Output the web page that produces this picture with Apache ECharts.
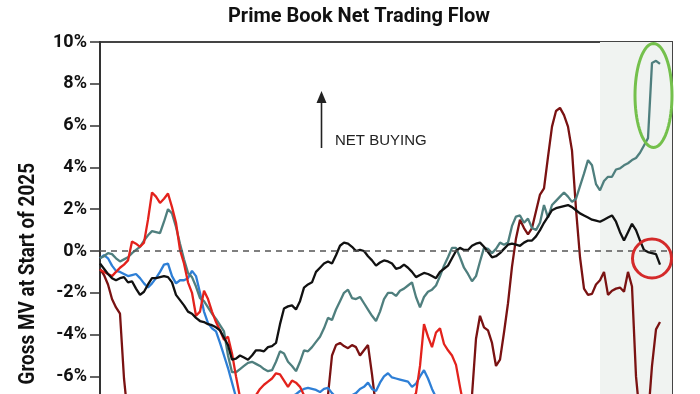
<!DOCTYPE html>
<html>
<head>
<meta charset="utf-8">
<script src="https://cdn.jsdelivr.net/npm/echarts@6/dist/echarts.min.js"></script>
<style>
html,body{margin:0;padding:0;background:#fff;overflow:hidden;}
#chart{width:700px;height:500px;}
</style>
</head>
<body>
<div id="chart"></div>
<script>
// Observation points (144 slots across the plot width; labels fall below the visible area)
const categories = [];
for (let i = 1; i <= 144; i++) categories.push('P' + i);

const yTicks = [-10, -8, -6, -4, -2, 0, 2, 4, 6, 8, 10];

const blackSeries = [
 -0.6,-0.85,-1.1,-1.3,-1.4,-1.3,-1.25,-1.5,-1.45,-1.8,
 -2.1,-1.95,-1.6,-1.3,-1.3,-1.25,-1.2,-1.25,-1.5,-2.1,
 -2.35,-2.6,-2.9,-3.0,-3.2,-3.35,-3.4,-3.5,-3.55,-3.65,
 -3.8,-4.15,-4.5,-5.2,-5.15,-5.0,-5.1,-5.2,-5.0,-4.75,
 -4.75,-4.8,-4.6,-4.55,-4.4,-3.5,-2.75,-2.65,-2.6,-2.8,
 -2.4,-1.75,-1.6,-1.5,-1.0,-0.8,-0.6,-0.5,-0.6,-0.2,
 0.25,0.4,0.35,0.2,0.0,0.05,0.0,-0.25,-0.45,-0.7,
 -0.55,-0.45,-0.5,-0.6,-0.85,-0.8,-0.65,-0.8,-1.0,-1.25,
 -1.15,-1.05,-1.1,-1.2,-1.3,-1.0,-0.85,-0.7,-0.35,0.0,
 0.15,0.05,0.05,0.25,0.35,0.4,0.2,-0.05,-0.3,-0.25,
 -0.1,0.1,0.3,0.35,0.3,0.25,0.4,0.5,0.5,0.7,
 1.0,1.35,1.65,1.95,2.05,2.1,2.15,2.2,2.1,1.95,
 1.8,1.7,1.6,1.5,1.45,1.4,1.5,1.6,1.7,1.4,
 0.9,0.5,0.9,1.3,1.0,0.5,0.05,-0.05,-0.1,-0.15,
 -0.65
];

const tealSeries = [
 -0.35,-0.25,-0.1,-0.15,-0.35,-0.5,-0.4,-0.3,-0.1,0.05,
 0.2,0.5,0.75,0.95,0.9,0.85,1.4,2.0,1.8,1.15,
 0.35,-0.4,-1.05,-1.25,-1.7,-2.25,-2.4,-2.7,-3.0,-3.25,
 -3.55,-3.85,-5.0,-5.8,-5.8,-5.65,-5.5,-5.35,-5.3,-5.4,
 -5.5,-5.65,-5.75,-5.7,-5.3,-4.8,-4.9,-5.3,-5.5,-5.75,
 -5.3,-4.75,-4.8,-4.6,-4.35,-4.1,-3.7,-3.2,-3.3,-2.8,
 -2.4,-2.0,-1.85,-2.25,-2.3,-2.2,-2.5,-2.8,-3.1,-3.35,
 -2.9,-2.3,-2.0,-2.0,-2.15,-1.9,-1.8,-1.65,-1.5,-2.2,
 -2.7,-2.2,-1.95,-1.85,-1.65,-1.2,-0.7,-0.3,0.15,0.15,
 -0.3,-0.8,-1.1,-1.45,-1.2,-0.5,0.15,0.1,-0.1,0.1,
 0.4,0.3,0.4,1.2,1.65,1.7,1.35,1.55,1.1,1.0,
 1.35,2.2,1.6,2.2,2.4,2.6,2.8,2.6,2.35,2.5,
 3.1,3.7,4.35,4.1,3.2,2.9,3.35,3.55,3.55,3.9,
 3.95,4.1,4.2,4.35,4.45,4.7,5.05,5.4,9.0,9.1,
 8.95
];

const redSeries = [
 -0.9,-1.0,-1.1,-1.2,-1.0,-0.8,-0.65,-0.45,0.45,0.35,
 0.2,0.4,1.5,2.8,2.6,2.3,2.5,2.75,2.1,1.35,
 0.05,-0.6,-1.5,-2.0,-3.1,-2.9,-1.9,-2.3,-2.9,-3.4,
 -3.8,-4.25,-4.1,-4.9,-6.0,-7.0,-7.3,-7.4,-7.2,-6.9,
 -6.6,-6.4,-6.25,-6.1,-5.85,-5.9,-6.2,-6.5,-6.2,-6.3,
 -6.5,-6.9,-7.3,-7.6,-7.8,-7.9,-8.0,-7.9,-7.8,-7.7,
 -7.8,-7.9,-8.0,-8.1,-8.0,-7.9,-7.8,-7.9,-8.0,-7.9,
 -7.8,-7.7,-7.6,-7.7,-7.8,-7.6,-7.4,-7.3,-7.1,-6.8,
 -5.5,-3.5,-4.1,-4.6,-3.9,-3.7,-4.45,-4.75,-5.0,-5.45,
 -6.5,-7.5,-8.0
];

const blueSeries = [
 -0.35,-0.2,-0.35,-0.7,-0.95,-1.0,-1.1,-1.2,-1.15,-1.1,
 -1.3,-1.55,-1.75,-1.55,-1.3,-1.0,-0.65,-0.6,-1.2,-1.55,
 -1.4,-1.4,-1.3,-0.95,-1.2,-2.0,-2.9,-3.45,-3.7,-3.85,
 -4.4,-5.0,-5.6,-6.3,-7.0,-7.4,-7.6,-7.7,-7.8,-7.7,
 -7.6,-7.5,-7.4,-7.3,-7.2,-7.2,-7.1,-7.0,-6.95,-6.85,
 -6.7,-6.6,-6.55,-6.6,-6.65,-6.75,-6.6,-6.55,-6.8,-7.0,
 -7.1,-7.1,-7.0,-6.9,-6.8,-6.6,-6.5,-6.3,-6.6,-6.7,
 -6.3,-6.0,-5.85,-6.05,-6.1,-6.15,-6.2,-6.25,-6.5,-6.35,
 -6.0,-5.7,-6.1,-6.6,-7.0,-7.5
];

const maroonSeries = [
 -0.85,-1.15,-1.6,-2.3,-2.7,-3.0,-6.1,
 -8.0,-8.6,-9.0,-9.2,-9.3,-9.1,-9.0,-9.2,-9.4,-9.5,
 -9.4,-9.3,-9.2,-9.4,-9.5,-9.6,-9.5,-9.4,-9.3,-9.2,
 -9.0,-9.1,-9.3,-9.4,-9.2,-9.0,-8.8,-8.9,-9.0,-8.8,
 -8.6,-8.5,-8.7,-8.8,-8.6,-8.4,-8.3,-8.5,-8.6,-8.4,
 -8.2,-8.0,-8.1,-8.2,-8.0,-7.9,-7.8,-7.9,-7.7,-7.5,
 -6.9,-5.0,-4.5,-4.4,-4.55,-4.65,-4.5,-4.6,-5.0,-4.75,-4.5,-5.9,
 -7.5,-7.8,-7.6,-7.9,-8.1,-8.2,-8.0,-8.3,-8.4,-8.2,-8.0,-8.1,
 -8.3,-8.2,-8.0,-7.9,-8.1,-8.2,-8.0,-7.8,-7.7,-7.8,-7.6,-7.4,
 -6.9,-4.2,-3.1,-3.65,-3.8,-4.4,-5.5,-5.2,-3.9,-2.5,
 -0.75,0.6,1.5,1.1,0.8,1.1,1.9,2.7,3.0,4.5,
 5.95,6.7,6.85,6.5,5.95,4.8,2.0,-0.3,-1.8,-2.1,
 -2.05,-1.6,-1.4,-1.0,-2.1,-1.9,-1.8,-1.75,-1.95,-1.0,
 -1.7,-6.0,-8.0,-9.0,-8.0,-5.5,-3.75,-3.4
];

const shadeStart = categories[125];
const shadeEnd = categories[143];

const chart = echarts.init(document.getElementById('chart'), null, {renderer: 'canvas'});

function lineSeries(name, data, color, extra) {
  return Object.assign({
    name: name,
    type: 'line',
    data: data,
    symbol: 'none',
    showSymbol: false,
    smooth: false,
    lineStyle: {color: color, width: 2.3},
    itemStyle: {color: color},
    emphasis: {disabled: true},
    animation: false
  }, extra || {});
}

// ellipse outline for the highlight annotation (shape only, not data)
const ellipsePts = [];
for (let k = 0; k < 72; k++) {
  const t = k / 72 * Math.PI * 2;
  ellipsePts.push([653.5 + 18.5 * Math.cos(t), 95.5 + 52 * Math.sin(t)]);
}

const option = {
  animation: false,
  backgroundColor: '#ffffff',
  title: {
    text: 'Prime Book Net Trading Flow',
    left: 354,
    textAlign: 'center',
    top: 2,
    textStyle: {fontFamily: 'Roboto', fontWeight: 'bold', fontSize: 20, color: '#111'}
  },
  grid: {
    left: 100, right: 28, top: 42, bottom: 40,
    show: true, borderColor: '#444', borderWidth: 2, backgroundColor: 'transparent'
  },
  xAxis: {
    type: 'category',
    data: categories,
    boundaryGap: false,
    axisLine: {show: false},
    axisTick: {show: false},
    axisLabel: {show: false},
    splitLine: {show: false}
  },
  yAxis: {
    type: 'value',
    min: yTicks[0],
    max: yTicks[yTicks.length - 1],
    interval: 2,
    axisLine: {show: true, lineStyle: {color: '#333', width: 2}},
    axisTick: {show: true, length: 10, lineStyle: {color: '#333', width: 1.5}},
    axisLabel: {
      margin: 13,
      formatter: function (v) { return v + '%'; },
      fontFamily: 'Roboto', fontWeight: 'bold', fontSize: 18, color: '#111'
    },
    splitLine: {show: false}
  },
  series: [
    lineSeries('Maroon', maroonSeries, '#7a1212', {
      markArea: {
        silent: true,
        itemStyle: {color: '#f0f3f1'},
        data: [[{xAxis: shadeStart}, {xAxis: shadeEnd}]]
      }
    }),
    lineSeries('Blue', blueSeries, '#2e7fd6'),
    lineSeries('Teal', tealSeries, '#4f7f7e'),
    lineSeries('Red', redSeries, '#e3221c'),
    lineSeries('Black', blackSeries, '#111111', {
      markLine: {
        silent: true,
        symbol: ['none', 'none'],
        label: {show: false},
        lineStyle: {color: '#555', width: 1.6, type: [6, 5]},
        data: [{yAxis: 0}]
      }
    })
  ],
  graphic: [
    {
      type: 'text',
      z: 100,
      x: 28, y: 163,
      rotation: Math.PI / 2,
      scaleX: 0.86,
      style: {
        text: 'Gross MV at Start of 2025',
        fontFamily: 'Roboto', fontWeight: 'bold', fontSize: 22, fill: '#111',
        align: 'right', verticalAlign: 'middle'
      }
    },
    {
      type: 'line',
      z: 100,
      shape: {x1: 321.5, y1: 100, x2: 321.5, y2: 148},
      style: {stroke: '#222', lineWidth: 1.6}
    },
    {
      type: 'polygon',
      z: 100,
      shape: {points: [[321.5, 91], [316.5, 103], [326.5, 103]]},
      style: {fill: '#222'}
    },
    {
      type: 'text',
      z: 100,
      x: 335, y: 140.5,
      style: {
        text: 'NET BUYING',
        fontFamily: 'Liberation Sans', fontSize: 15, fill: '#222',
        verticalAlign: 'middle'
      }
    },
    {
      type: 'polygon',
      z: 100,
      shape: {points: ellipsePts},
      style: {fill: 'none', stroke: '#74c04c', lineWidth: 3}
    },
    {
      type: 'circle',
      z: 100,
      shape: {cx: 652, cy: 258.5, r: 19.5},
      style: {fill: 'none', stroke: '#d42a2a', lineWidth: 3}
    }
  ]
};

chart.setOption(option);
</script>
</body>
</html>
